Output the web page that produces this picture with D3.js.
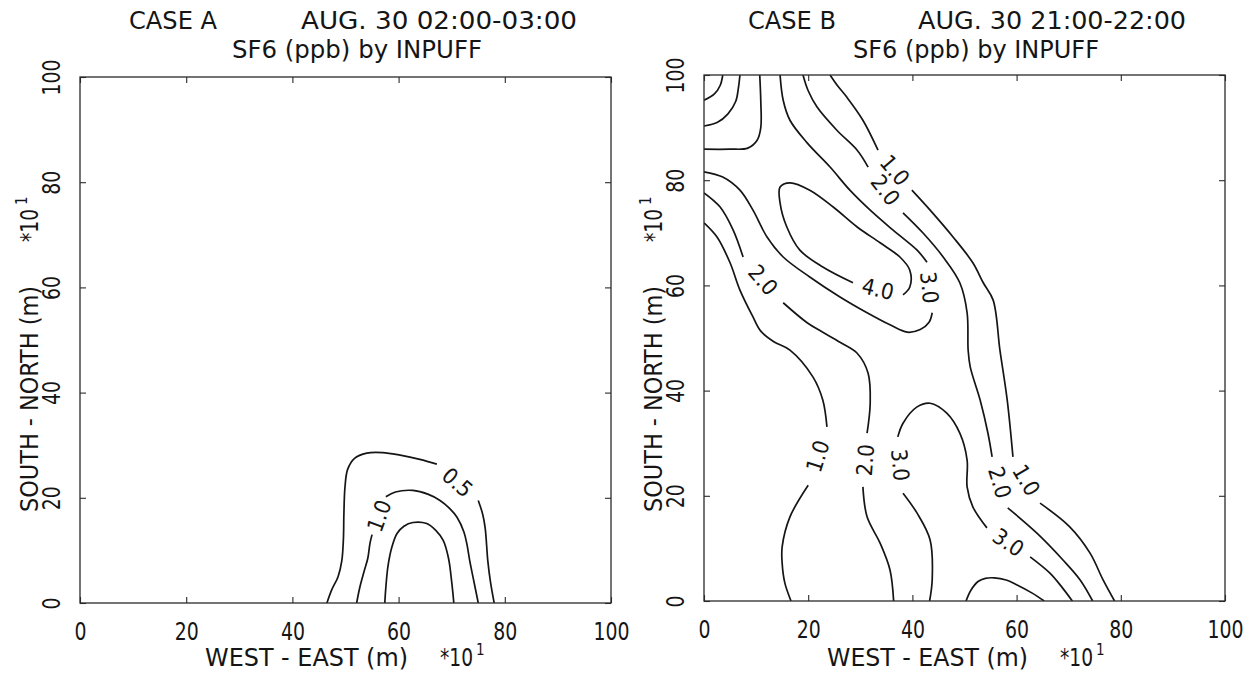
<!DOCTYPE html>
<html>
<head>
<meta charset="utf-8">
<script src="https://cdn.jsdelivr.net/npm/d3@7"></script>
<style>
  body { margin: 0; background: #fff; }
  svg text {
    font-family: "DejaVu Sans Condensed", "Liberation Sans Narrow", "DejaVu Sans", sans-serif;
    font-stretch: condensed;
    fill: #151515;
  }
</style>
</head>
<body>
<svg id="chart" width="1260" height="675"></svg>
<script>
// axis ticks (same on both panels, units of 10 m)
const xTicks = [0, 20, 40, 60, 80, 100];
const yTicks = [0, 20, 40, 60, 80, 100];

// text
const titlesA = ["CASE A", "AUG. 30 02:00-03:00", "SF6 (ppb) by INPUFF"];
const titlesB = ["CASE B", "AUG. 30 21:00-22:00", "SF6 (ppb) by INPUFF"];
const xTitle = "WEST - EAST (m)";
const yTitle = "SOUTH - NORTH (m)";
const scaleNote = ["*10", "1"];

// CASE A contours: segments of [west-east, south-north], label sits in the gap between segments
const caseA_05 = [
  [[46.5,0],[47.4,2.5],[48.6,5],[49.3,8],[49.6,12],[49.7,17],[49.9,22],[50.4,25.4],[51.7,27.5],[54,28.5],[57,28.6],[60.3,28.1],[64,27.3],[67.2,26.4]],
  [[75,19.5],[75.8,17],[76.3,14.3],[76.8,8],[77.3,4],[78,0]]
];
const caseA_10 = [
  [[52.1,0],[52.7,3],[53.5,6],[54.2,8.5],[54.6,11.3],[55,13]],
  [[57.6,20.2],[59.4,21.1],[62.7,21.4],[65.5,20.7],[67.8,19.5],[69.6,18],[71,16.3],[72.3,13.5],[72.9,11],[73.4,8],[74.2,4],[75,0]]
];
const caseA_20 = [
  [[57.4,0],[57.6,3],[58,7],[58.7,10.5],[59.7,13.2],[61,14.6],[62.7,15.3],[65.3,15.1],[67,13.8],[68.4,11.9],[69.4,8.5],[70,4],[70.4,0]]
];

// CASE B contours
const caseB_corner1 = [[[3.6,100],[3.1,98],[2,96.4],[0,95.2]]];
const caseB_corner2 = [[[6.9,100],[6.6,97.5],[6.1,95],[4.6,92.6],[2.6,91],[0,90.3]]];
const caseB_corner3 = [[[10.7,100],[10.9,95],[10.9,90],[10.2,87.6],[8.4,86.1],[5,85.9],[0,85.9]]];
const caseB_30top = [
  [[14.6,100],[15.2,95.2],[16.5,91.4],[19.8,87.1],[24.2,82.5],[28,78.1],[31.9,74.3],[36.3,70.5],[40.9,66.7],[42.8,64.4]],
  [[43.8,54.8],[43.2,53],[41.5,51.6],[39,51.1],[35.7,52.5],[31.3,54.8],[26.1,57.8],[20.3,61.6],[15.2,65.4],[12.1,69.2],[9.4,74.3],[6.9,78.1],[3.6,80.6],[0,81.6]]
];
const caseB_40loop = [
  [[38.2,58.2],[39.5,59.7],[39.5,62.9],[37.6,65.4],[33.8,68.1],[29.4,71.1],[24.8,74.9],[20.3,78.1],[16.5,79.5],[14.6,78.7],[14.6,75.7],[15.9,71.1],[18.4,66.7],[22.8,63.5],[28.6,60.5]]
];
const caseB_20ne = [
  [[19,100],[20,97],[21.7,93.9],[25.5,89.5],[29.4,85.7],[31.5,82.5]],
  [[38.2,73.8],[42,70],[45.9,65.4],[49.1,60.5],[50.5,54.8],[50.7,47.7],[51.1,44.5],[53,38.2],[54.5,31.9],[55.3,27.4]],
  [[58.3,17.7],[63.9,12.9],[68.9,7.8],[72.2,4],[74.6,0]]
];
const caseB_10ne = [
  [[24.2,100],[25.6,98],[27.4,95.8],[30.5,91.4],[33.4,85.7]],
  [[39.9,78.1],[43.4,74.3],[47.8,69.2],[51.6,64.3],[53.6,60.5],[55.5,57.2],[56.8,47.7],[58.2,38.2],[59.3,27.4]],
  [[64.5,18.6],[70.2,14.1],[74.1,9.1],[76.6,4],[78.8,0]]
];
const caseB_30low = [
  [[43.3,0],[43.8,4],[43.4,11.6],[40.9,16.7],[38.2,20.5]],
  [[37.2,31.2],[38.2,33.8],[40.9,36.9],[43.4,37.6],[46.6,35.7],[49.1,31.9],[50.5,26.8],[50.5,21.7],[51.6,17.9],[54.3,13.9]],
  [[62.6,8.4],[66.4,5.3],[68.8,2.5],[70.7,0]]
];
const caseB_20sw = [
  [[0,77.6],[3.1,74.9],[5.6,70.5],[7.5,65.4]],
  [[15.2,56.7],[19.8,52.9],[22.8,51.1],[26.1,49.2],[29.4,47.1],[31.5,43.3],[31.9,37.6],[31.3,31.9]],
  [[30.5,21.7],[31.3,16],[33.8,11],[35.7,5.9],[36.4,0]]
];
const caseB_10sw = [
  [[0,71.9],[2.5,69.2],[5,64.3],[6.9,59.1],[9.4,54],[10.9,51.3],[13.4,49.3],[16.5,47.7],[20.9,42.6],[22.8,38.2],[23.6,33.1]],
  [[20,22],[16.5,16],[15,10.3],[15,7.2],[15.5,3.5],[16.7,0]]
];
const caseB_40low = [
  [[50.3,0],[51.2,2],[52.6,3.7],[54,4.3],[55.7,4.4],[58,4],[60,3.1],[63,1.5],[65.3,0]]
];

// layout: frame box, title placement [x, width], axis title placement
const panels = [
  {
    id: "A", l: 80, r: 611, t: 77, b: 603,
    titles: titlesA,
    titlePos: [[129, 88], [301, 276], [232, 250]],
    xTitlePos: [205, 203, 440], yTitleX: 38,
    contours: [
      { level: 0.5, segs: caseA_05 },
      { level: 1.0, segs: caseA_10 },
      { level: 2.0, segs: caseA_20 }
    ]
  },
  {
    id: "B", l: 704, r: 1225, t: 75, b: 601,
    titles: titlesB,
    titlePos: [[748, 88], [918, 268], [853, 246]],
    xTitlePos: [827, 201, 1060], yTitleX: 662,
    contours: [
      { level: 1.0, segs: caseB_corner1 },
      { level: 2.0, segs: caseB_corner2 },
      { level: 3.0, segs: caseB_corner3 },
      { level: 3.0, segs: caseB_30top },
      { level: 4.0, segs: caseB_40loop, closed: true },
      { level: 2.0, segs: caseB_20ne },
      { level: 1.0, segs: caseB_10ne },
      { level: 3.0, segs: caseB_30low },
      { level: 2.0, segs: caseB_20sw },
      { level: 1.0, segs: caseB_10sw },
      { level: 4.0, segs: caseB_40low }
    ]
  }
];

const svg = d3.select("#chart");
const ink = "#151515";

function drawPanel(p) {
  const x = d3.scaleLinear().domain([0, 100]).range([p.l, p.r]);
  const y = d3.scaleLinear().domain([0, 100]).range([p.b, p.t]);
  const g = svg.append("g").attr("class", "panel-" + p.id);

  // Clip contour lines to the frame
  g.append("clipPath").attr("id", "clip" + p.id)
    .append("rect")
    .attr("x", p.l).attr("y", p.t)
    .attr("width", p.r - p.l).attr("height", p.b - p.t);

  const line = d3.line()
    .x(d => x(d[0]))
    .y(d => y(d[1]))
    .curve(d3.curveCatmullRom.alpha(0.5));

  const lines = g.append("g").attr("clip-path", `url(#clip${p.id})`);
  const labels = [];

  p.contours.forEach(c => {
    c.segs.forEach(seg => {
      lines.append("path")
        .attr("d", line(seg))
        .attr("fill", "none")
        .attr("stroke", ink)
        .attr("stroke-width", 1.7)
        .attr("stroke-linejoin", "round");
    });
    // labels go in the gaps between segments
    const gaps = [];
    for (let i = 0; i < c.segs.length - 1; i++) {
      gaps.push([c.segs[i][c.segs[i].length - 1], c.segs[i + 1][0]]);
    }
    if (c.closed) gaps.push([c.segs[c.segs.length - 1][c.segs[c.segs.length - 1].length - 1], c.segs[0][0]]);
    gaps.forEach(([a, b]) => {
      const x0 = x(a[0]), y0 = y(a[1]), x1 = x(b[0]), y1 = y(b[1]);
      let ang = Math.atan2(y1 - y0, x1 - x0) * 180 / Math.PI;
      if (ang > 90) ang -= 180;
      if (ang <= -90) ang += 180;
      labels.push({ cx: (x0 + x1) / 2, cy: (y0 + y1) / 2, ang, text: c.level.toFixed(1) });
    });
  });

  g.selectAll(".contour-label")
    .data(labels)
    .enter().append("text")
    .attr("class", "contour-label")
    .attr("transform", d => `translate(${d.cx},${d.cy}) rotate(${d.ang})`)
    .attr("text-anchor", "middle")
    .attr("dy", "0.36em")
    .attr("textLength", 32)
    .attr("lengthAdjust", "spacingAndGlyphs")
    .style("font-size", "22px")
    .text(d => d.text);

  // Frame
  g.append("rect")
    .attr("x", p.l).attr("y", p.t)
    .attr("width", p.r - p.l).attr("height", p.b - p.t)
    .attr("fill", "none")
    .attr("stroke", "#2a2a2a")
    .attr("stroke-width", 1.3);

  // Axes with inward ticks
  g.append("g")
    .attr("transform", `translate(0,${p.b})`)
    .call(d3.axisBottom(x).tickValues(xTicks).tickSize(-6).tickSizeOuter(0).tickPadding(20));
  g.append("g")
    .attr("transform", `translate(0,${p.t})`)
    .call(d3.axisTop(x).tickValues(xTicks).tickSize(-6).tickSizeOuter(0).tickFormat(""));
  const left = g.append("g")
    .attr("transform", `translate(${p.l},0)`)
    .call(d3.axisLeft(y).tickValues(yTicks).tickSize(-6).tickSizeOuter(0));
  g.append("g")
    .attr("transform", `translate(${p.r},0)`)
    .call(d3.axisRight(y).tickValues(yTicks).tickSize(-6).tickSizeOuter(0).tickFormat(""));

  g.selectAll(".domain").remove();
  g.selectAll(".tick line").attr("stroke", "#2a2a2a").attr("stroke-width", 1.1);
  g.selectAll(".tick text")
    .style("font-size", "24px")
    .attr("font-family", null)
    .attr("fill", ink)
    .attr("textLength", d => String(d).length * 12)
    .attr("lengthAdjust", "spacingAndGlyphs");

  left.selectAll(".tick text")
    .attr("x", 0)
    .attr("dy", 0)
    .attr("text-anchor", "middle")
    .attr("transform", "translate(-20,0) rotate(-90)");

  // Titles
  const t = g.append("g").style("font-size", "24px");
  const rows = [29, 29, 58];
  p.titles.forEach((s, i) => {
    t.append("text")
      .attr("x", p.titlePos[i][0]).attr("y", rows[i])
      .attr("textLength", p.titlePos[i][1])
      .attr("lengthAdjust", "spacingAndGlyphs")
      .text(s);
  });

  // X axis title with the *10^1 scale note
  const [xt0, xtLen, xtNote] = p.xTitlePos;
  g.append("text").attr("x", xt0).attr("y", 666)
    .attr("textLength", xtLen).attr("lengthAdjust", "spacingAndGlyphs")
    .style("font-size", "24px").text(xTitle);
  g.append("text").attr("x", xtNote).attr("y", 666)
    .attr("textLength", 33).attr("lengthAdjust", "spacingAndGlyphs")
    .style("font-size", "24px").text(scaleNote[0]);
  g.append("text").attr("x", xtNote + 36).attr("y", 655)
    .style("font-size", "15px").text(scaleNote[1]);

  // Y axis title, rotated
  g.append("text")
    .attr("transform", `translate(${p.yTitleX},512) rotate(-90)`)
    .attr("textLength", 226).attr("lengthAdjust", "spacingAndGlyphs")
    .style("font-size", "24px").text(yTitle);
  g.append("text")
    .attr("transform", `translate(${p.yTitleX},242) rotate(-90)`)
    .attr("textLength", 33).attr("lengthAdjust", "spacingAndGlyphs")
    .style("font-size", "24px").text(scaleNote[0]);
  g.append("text")
    .attr("transform", `translate(${p.yTitleX - 11},205) rotate(-90)`)
    .style("font-size", "15px").text(scaleNote[1]);
}

panels.forEach(drawPanel);
</script>
</body>
</html>
